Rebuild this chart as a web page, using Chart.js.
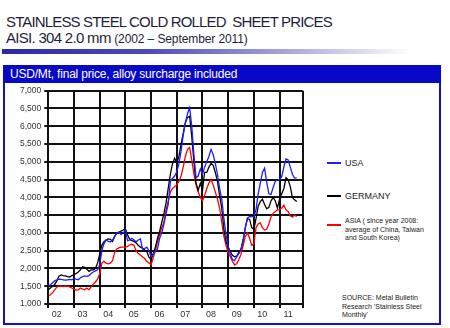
<!DOCTYPE html>
<html>
<head>
<meta charset="utf-8">
<script src="https://cdn.jsdelivr.net/npm/chart.js@4.4.0/dist/chart.umd.min.js"></script>
<style>
  html, body { margin: 0; padding: 0; background: #fff; }
  body { position: relative; width: 450px; height: 328px; overflow: hidden; font-family: "Liberation Sans", Arial, sans-serif; }
  .abs { position: absolute; white-space: nowrap; }
  #t1 { left: 6px; top: 14px; font-size: 15px; line-height: 15px; color: #1e1e3c; letter-spacing: -0.85px; }
  #t2 { left: 6px; top: 30px; font-size: 15px; line-height: 15px; color: #1e1e3c; letter-spacing: -0.7px; }
  #t2 small { font-size: 12px; letter-spacing: -0.1px; }
  #bar { left: 2px; top: 49px; width: 410px; height: 5px;
    background: linear-gradient(to right, #2a2aa6 0%, #4a4ab8 35%, #a8a8dc 70%, rgba(255,255,255,0) 100%); }
  #box { left: 3px; top: 65px; width: 438px; height: 260px; box-sizing: border-box; border: 2px solid #1010d0; }
  #head { left: 3px; top: 65px; width: 438px; height: 18px; background: #0808c8; color: #fff;
    font-size: 12px; line-height: 18px; padding-left: 7px; box-sizing: border-box; letter-spacing: -0.2px; }
  #wrap { left: 0; top: 80px; width: 310px; height: 242px; }
  .leg { font-size: 9px; color: #222; line-height: 9px; }
  .sw { position: absolute; width: 14px; height: 2px; }
  .small { font-size: 7px; line-height: 8.7px; color: #222; }
</style>
</head>
<body>
<div class="abs" id="t1">STAINLESS STEEL COLD ROLLED&nbsp; SHEET PRICES</div>
<div class="abs" id="t2">AISI. 304 2.0 mm <small>(2002 – September 2011)</small></div>
<div class="abs" id="bar"></div>
<div class="abs" id="box"></div>
<div class="abs" id="head">USD/Mt, final price, alloy surcharge included</div>
<div class="abs" id="wrap"><canvas id="priceChart"></canvas></div>

<div class="sw" style="left:327px; top:162px; background:#1c1cff;"></div>
<div class="abs leg" style="left:345px; top:159px;">USA</div>
<div class="sw" style="left:327px; top:195px; background:#000;"></div>
<div class="abs leg" style="left:345px; top:192px;">GERMANY</div>
<div class="sw" style="left:327px; top:224px; background:#ff0000;"></div>
<div class="abs small" style="left:345px; top:217px;">ASIA ( since year 2008:<br>average of China, Taiwan<br>and South Korea)</div>
<div class="abs small" style="left:342px; top:294px;">SOURCE: Metal Bulletin<br>Research 'Stainless Steel<br>Monthly'</div>

<script>
// monthly prices, Jan 2002 .. Sep 2011 (USD/t)
var startYear = 2002;
var yearLabels = ['02', '03', '04', '05', '06', '07', '08', '09', '10', '11'];

var usa = [1520,1540,1600,1650,1680,1700,1690,1680,1670,1680,1690,1680,
  1720,1700,1680,1740,1770,1790,1780,1800,1860,1900,1930,1960,
  2100,2500,2700,2800,2760,2750,2800,2900,3000,3020,2950,3000,
  3080,2780,2800,2850,2800,2750,2800,2830,2550,2560,2600,2500,
  2330,2400,2480,2550,2850,3000,3250,3550,3800,4450,4530,4600,
  4720,4950,5300,5750,6100,6350,6520,6000,5200,4550,4600,4800,
  4650,4850,5000,5150,5350,5200,4950,4650,4250,3950,3400,2950,
  2620,2400,2250,2220,2330,2420,2520,2800,3150,3420,3460,3460,
  3460,3650,4100,4400,4700,4820,4420,4100,4080,4280,4450,4500,
  4500,4580,4850,5080,5050,4850,4650,4540,4550];

var germany = [1400,1450,1500,1550,1650,1780,1820,1800,1790,1770,1760,1800,
  1820,1860,1900,1960,2050,2030,1980,1920,1960,1960,2000,2150,
  2400,2650,2750,2800,2830,2820,2760,2900,3000,3020,3050,3080,
  3120,2950,2820,2780,2760,2720,2650,2600,2570,2520,2470,2320,
  2250,2420,2600,2850,3050,3300,3550,3850,4250,4650,4950,5100,
  4960,5150,5500,5800,6100,6250,6280,5700,5000,4400,4200,4400,
  4200,4700,4700,4850,4950,4900,4700,4450,4050,3700,3100,2750,
  2600,2470,2370,2330,2350,2450,2550,2800,3150,3400,3380,3150,
  3100,3400,3750,3880,3950,3800,3680,3720,3900,4000,3900,3700,
  3950,4100,4250,4550,4500,4300,4000,3930,3880];

var asia = [1230,1260,1320,1400,1480,1500,1500,1490,1500,1500,1480,1450,
  1420,1390,1400,1450,1420,1400,1450,1400,1480,1560,1620,1700,
  1850,2150,2200,2150,2130,2150,2220,2450,2550,2580,2600,2600,
  2600,2620,2660,2680,2650,2500,2420,2380,2330,2280,2200,2150,
  2100,2300,2500,2750,2950,3150,3300,3650,3900,4150,4250,4300,
  4350,4450,4600,4850,5150,5350,5400,5050,4650,4350,4150,4000,
  3900,4050,4250,4400,4500,4350,4150,3950,3700,3300,2900,2650,
  2450,2330,2200,2100,2130,2250,2400,2650,2900,3000,2850,2650,
  2700,3150,3250,3280,3150,3080,3100,3250,3450,3550,3600,3650,
  3650,3700,3780,3650,3600,3480,3450,3500,3460];

function toPoints(values) {
  return values.map(function(v, i) { return { x: startYear + i / 12, y: v }; });
}

var xMax = 2011.9;
var labelOffset = 0.33;

function isLabelTick(v) {
  return Math.abs(v - Math.round(v)) > 0.2;
}

Chart.defaults.font.family = '"Liberation Sans", Arial, sans-serif';

var ctx = document.getElementById('priceChart').getContext('2d');
var priceChart = new Chart(ctx, {
  type: 'line',
  data: {
    datasets: [
      { label: 'USA', data: toPoints(usa), borderColor: '#1c1cff', borderWidth: 1.3, pointRadius: 0, tension: 0 },
      { label: 'GERMANY', data: toPoints(germany), borderColor: '#000000', borderWidth: 1.3, pointRadius: 0, tension: 0 },
      { label: 'ASIA', data: toPoints(asia), borderColor: '#ff0000', borderWidth: 1.3, pointRadius: 0, tension: 0 }
    ]
  },
  options: {
    responsive: true,
    maintainAspectRatio: false,
    animation: false,
    layout: { padding: { top: 10.7, right: 7.3, left: 0, bottom: 0 } },
    plugins: { legend: { display: false }, tooltip: { enabled: false } },
    scales: {
      x: {
        type: 'linear',
        min: startYear,
        max: xMax,
        afterFit: function(scale) { scale.height = 18; },
        afterBuildTicks: function(scale) {
          var ticks = [];
          for (var i = 0; i < yearLabels.length; i++) {
            ticks.push({ value: startYear + i });
            ticks.push({ value: startYear + i + labelOffset });
          }
          ticks.push({ value: xMax });
          scale.ticks = ticks;
        },
        border: { display: false },
        grid: {
          lineWidth: 2,
          tickLength: 4,
          color: function(c) {
            if (!c.tick) return 'rgba(0,0,0,0)';
            return isLabelTick(c.tick.value) ? 'rgba(0,0,0,0)' : '#111';
          }
        },
        ticks: {
          autoSkip: false,
          maxRotation: 0,
          padding: 1,
          color: '#333',
          font: { size: 9 },
          callback: function(v) {
            if (!isLabelTick(v)) return '';
            return yearLabels[Math.floor(v) - startYear];
          }
        }
      },
      y: {
        min: 1000,
        max: 7000,
        afterFit: function(scale) { scale.width = 48.3; },
        border: { display: false },
        grid: { lineWidth: 2, color: '#111', tickLength: 4 },
        ticks: {
          stepSize: 500,
          padding: 3,
          color: '#333',
          font: { size: 8.5 },
          callback: function(v) { return v.toLocaleString('en-US'); }
        }
      }
    }
  }
});
</script>
</body>
</html>
